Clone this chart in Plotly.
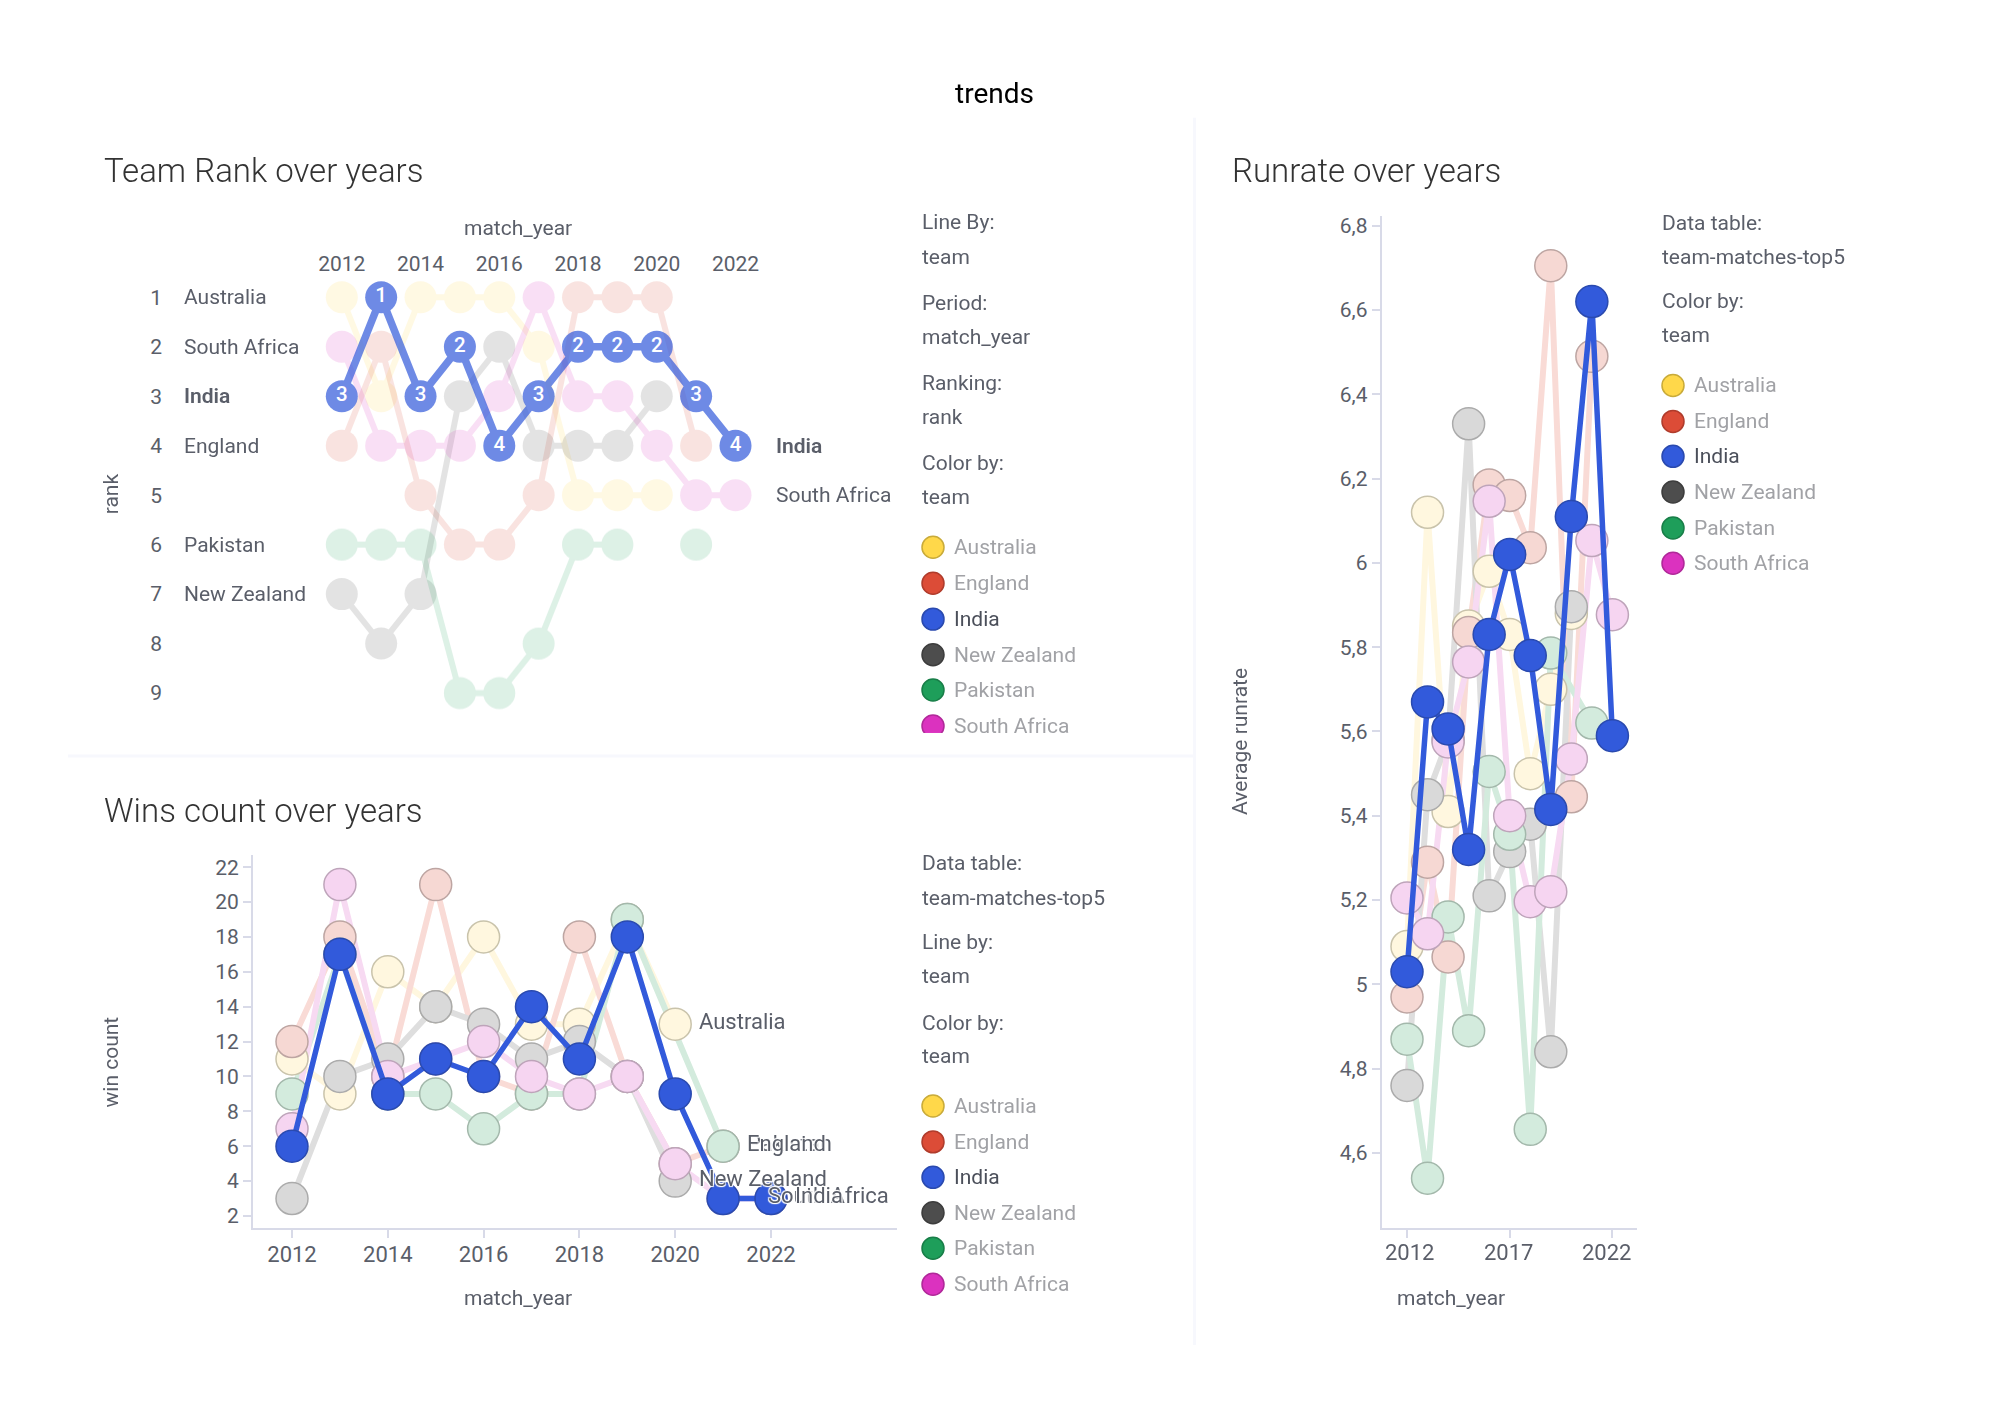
import plotly.graph_objects as go

W, H = 2000, 1413

# ---------- data ----------
years = [2012, 2013, 2014, 2015, 2016, 2017, 2018, 2019, 2020, 2021, 2022]
teams = ["Australia", "England", "New Zealand", "Pakistan", "South Africa", "India"]
legend_teams = ["Australia", "England", "India", "New Zealand", "Pakistan", "South Africa"]

rank_australia = [1, 3, 1, 1, 1, 2, 5, 5, 5, None, None]
rank_england = [4, 2, 5, 6, 6, 5, 1, 1, 1, 4, None]
rank_new_zealand = [7, 8, 7, 3, 2, 4, 4, 4, 3, None, None]
rank_pakistan = [6, 6, 6, 9, 9, 8, 6, 6, None, 6, None]
rank_south_africa = [2, 4, 4, 4, 3, 1, 3, 3, 4, 5, 5]
rank_india = [3, 1, 3, 2, 4, 3, 2, 2, 2, 3, 4]

wins_australia = [11, 9, 16, 14, 18, 13, 13, 19, 13, None, None]
wins_england = [12, 18, 10, 21, 10, 9, 18, 10, 5, 6, None]
wins_new_zealand = [3, 10, 11, 14, 13, 11, 12, 10, 4, None, None]
wins_pakistan = [9, 17, 9, 9, 7, 9, 9, 19, None, 6, None]
wins_south_africa = [7, 21, 10, 11, 12, 10, 9, 10, 5, 3, 3]
wins_india = [6, 17, 9, 11, 10, 14, 11, 18, 9, 3, 3]

rate_australia = [5.09, 6.12, 5.41, 5.85, 5.98, 5.83, 5.5, 5.7, 5.88, None, None]
rate_england = [4.97, 5.29, 5.065, 5.835, 6.185, 6.16, 6.036, 6.705, 5.445, 6.49, None]
rate_new_zealand = [4.76, 5.45, 5.58, 6.33, 5.21, 5.315, 5.38, 4.84, 5.896, None, None]
rate_pakistan = [4.87, 4.54, 5.16, 4.89, 5.505, 5.356, 4.656, 5.786, None, 5.62, None]
rate_south_africa = [5.205, 5.12, 5.575, 5.765, 6.146, 5.40, 5.196, 5.22, 5.535, 6.053, 5.877]
rate_india = [5.03, 5.67, 5.606, 5.32, 5.83, 6.02, 5.78, 5.415, 6.11, 6.62, 5.59]

rank_data = dict(zip(teams, [rank_australia, rank_england, rank_new_zealand, rank_pakistan, rank_south_africa, rank_india]))
wins_data = dict(zip(teams, [wins_australia, wins_england, wins_new_zealand, wins_pakistan, wins_south_africa, wins_india]))
rate_data = dict(zip(teams, [rate_australia, rate_england, rate_new_zealand, rate_pakistan, rate_south_africa, rate_india]))

# ---------- styles ----------
FONT = "Roboto"
BASE = {"Australia": "#FFD84A", "England": "#DC4C37", "India": "#325ADB",
        "New Zealand": "#4D4D4D", "Pakistan": "#1E9E5A", "South Africa": "#DB32BF"}
PALE_FILL = {"Australia": "#FFF7DF", "England": "#F6D8D3", "India": "#325ADB",
             "New Zealand": "#D9D9D9", "Pakistan": "#D3EBDD", "South Africa": "#F6D5F1"}
PALE_EDGE = {"Australia": "#C9C3AB", "England": "#BDA5A2", "India": "#2A4AAF",
             "New Zealand": "#ABABAB", "Pakistan": "#A3B8AB", "South Africa": "#BEA4BA"}
PALE_LINE = {"Australia": "#FFF7DF", "England": "#F9DBD6", "India": "#325ADB",
             "New Zealand": "#DEDEDE", "Pakistan": "#D3EBDD", "South Africa": "#F7DAF2"}
SWATCH_EDGE = {"Australia": "#C9AB3A", "England": "#B03C2C", "India": "#2A4AAF",
               "New Zealand": "#3D3D3D", "Pakistan": "#187E48", "South Africa": "#B02999"}
DARK = "#5A5E69"
FADE = "#A1A2A6"
AXIS = "#D8DAE8"
SEP = "#F7F8FD"
SIZE = 21

def px(x):
    return x / W

def py(y):
    return 1 - y / H

def span(v_a, p_a, v_b, p_b, p_lo, p_hi):
    """axis range so that value v_a falls on pixel p_a and v_b on p_b"""
    k = (v_b - v_a) / (p_b - p_a)
    return [v_a + (p_lo - p_a) * k, v_a + (p_hi - p_a) * k]

fig = go.Figure()

# ---------- traces ----------
for t in teams:
    india = t == "India"
    fig.add_trace(go.Scatter(
        x=years, y=rank_data[t], name=t, xaxis="x", yaxis="y",
        mode="lines+markers+text" if india else "lines+markers",
        text=[str(v) for v in rank_data[t]] if india else None,
        textposition="middle center",
        textfont=dict(family=FONT, size=20.5, color="#FFFFFF", weight=500),
        opacity=0.7 if india else 0.15,
        line=dict(color=BASE[t], width=7.5 if india else 6),
        marker=dict(color=BASE[t], size=32, line=dict(width=0)),
        cliponaxis=False, showlegend=False, hoverinfo="x+y+name"))

for data, xa, ya in [(wins_data, "x2", "y2"), (rate_data, "x3", "y3")]:
    pale = [t for t in teams if t != "India"]
    # pale lines lie under all the pale circles; India goes above everything
    for t in pale:
        fig.add_trace(go.Scatter(
            x=years, y=data[t], name=t, xaxis=xa, yaxis=ya, mode="lines", connectgaps=True,
            line=dict(color=PALE_LINE[t], width=6), showlegend=False, hoverinfo="skip"))
    for t in pale:
        fig.add_trace(go.Scatter(
            x=years, y=data[t], name=t, xaxis=xa, yaxis=ya, mode="markers",
            marker=dict(color=PALE_FILL[t], size=32, line=dict(color=PALE_EDGE[t], width=1.5)),
            cliponaxis=False, showlegend=False, hoverinfo="x+y+name"))
    fig.add_trace(go.Scatter(
        x=years, y=data["India"], name="India", xaxis=xa, yaxis=ya, mode="lines+markers",
        line=dict(color=PALE_LINE["India"], width=5.5),
        marker=dict(color=PALE_FILL["India"], size=32, line=dict(color=PALE_EDGE["India"], width=1.5)),
        cliponaxis=False, showlegend=False, hoverinfo="x+y+name"))

# ---------- axes ----------
tickfont = dict(family=FONT, size=21, color=DARK)
axis_look = dict(showgrid=False, zeroline=False, showline=True, linecolor=AXIS, linewidth=2,
                 ticks="outside", ticklen=8, tickcolor=AXIS, tickwidth=1.5, tickfont=tickfont)
x_look = {**axis_look, "tickfont": dict(family=FONT, size=22, color=DARK)}
fig.update_layout(
    width=W, height=H, autosize=False, margin=dict(l=0, r=0, t=0, b=0),
    paper_bgcolor="white", plot_bgcolor="white", separators=",.", hovermode="closest",
    xaxis=dict(domain=[px(170), px(900)], range=span(2012, 341.8, 2022, 735.5, 170, 900),
               side="top", tickvals=years[::2], showgrid=False, zeroline=False, showline=False,
               ticks="", tickfont=tickfont, anchor="y"),
    yaxis=dict(domain=[py(740), py(275)], range=span(1, 295.7, 9, 692, 740, 275),
               tickvals=list(range(1, 10)), showgrid=False, zeroline=False, showline=False,
               ticks="", tickfont=tickfont, anchor="x", ticklabelstandoff=7),
    xaxis2=dict(domain=[px(253), px(897)], range=span(2012, 292, 2022, 771, 253, 897),
                tickvals=years[::2], anchor="y2", ticklabelstandoff=-3, **x_look),
    yaxis2=dict(domain=[py(1228), py(854)], range=span(2, 1215.7, 22, 866.4, 1228, 854),
                tickvals=list(range(2, 24, 2)), anchor="x2", **axis_look),
    xaxis3=dict(domain=[px(1381.7), px(1636.7)], range=span(2012, 1407, 2022, 1612.4, 1381.7, 1636.7),
                tickvals=[2012, 2017, 2022], showticklabels=False, anchor="y3", **axis_look),
    yaxis3=dict(domain=[py(1228), py(214)], range=span(4.6, 1152.6, 6.8, 224, 1228, 214),
                tickvals=[4.6, 4.8, 5, 5.2, 5.4, 5.6, 5.8, 6, 6.2, 6.4, 6.6, 6.8], anchor="x3", **axis_look),
)

# ---------- text ----------
notes = []

def note(text, x, y, size=SIZE, color=DARK, anchor="left", angle=0, weight=400):
    notes.append(dict(text=text, x=px(x), y=py(y), xref="paper", yref="paper", showarrow=False,
                      xanchor=anchor, yanchor="middle", textangle=angle, borderpad=0, borderwidth=0,
                      font=dict(family=FONT, size=size, color=color, weight=weight)))

note("trends", 994.6, 91.5, size=28, color="#000000", anchor="center")
for txt, x, y in [("Team Rank over years", 104, 168.5), ("Wins count over years", 104, 810),
                  ("Runrate over years", 1232, 168.5)]:
    note(txt, x, y, size=33, color="#333333", weight=300)

note("match_year", 518, 226, anchor="center")
note("match_year", 518, 1298, anchor="center")
note("match_year", 1451, 1298, anchor="center")
note("rank", 111, 493, anchor="center", angle=-90)
note("win count", 111, 1062, anchor="center", angle=-90)
note("Average runrate", 1240, 741, anchor="center", angle=-90)

panels = [
    (922, [("Line By:", 220.5), ("team", 255.5), ("Period:", 301), ("match_year", 335.5),
           ("Ranking:", 381.5), ("rank", 415.5), ("Color by:", 462), ("team", 496)],
     [546, 582, 618, 653.6, 689, 725]),
    (922, [("Data table:", 862.7), ("team-matches-top5", 897), ("Line by:", 941), ("team", 975),
           ("Color by:", 1022), ("team", 1055)],
     [1105.5, 1141.5, 1177, 1212.5, 1248, 1284]),
    (1662, [("Data table:", 221.5), ("team-matches-top5", 255.5), ("Color by:", 299.5), ("team", 333.5)],
     [384, 420, 455, 490.7, 526.7, 562]),
]

shapes = []
for left, rows, swatch_y in panels:
    for txt, y in rows:
        note(txt, left, y)
    for t, y in zip(legend_teams, swatch_y):
        shapes.append(dict(type="circle", xref="paper", yref="paper",
                           x0=px(left), x1=px(left + 22), y0=py(y + 11), y1=py(y - 11),
                           fillcolor=BASE[t], line=dict(color=SWATCH_EDGE[t], width=1.5)))
        note(t, left + 32, y, color="#4B4F5A" if t == "India" else FADE)

# the rank panel cuts its last swatch off
shapes.append(dict(type="rect", xref="paper", yref="paper", x0=px(918), x1=px(948), y0=py(732), y1=py(742),
                   fillcolor="white", line=dict(width=0)))

# separators
shapes.append(dict(type="line", xref="paper", yref="paper", x0=px(1194.5), x1=px(1194.5), y0=py(116), y1=py(1345),
                   line=dict(color=SEP, width=3)))
shapes.append(dict(type="line", xref="paper", yref="paper", x0=px(68), x1=px(1193), y0=py(755), y1=py(755),
                   line=dict(color=SEP, width=3)))

# run-rate panel: year labels sit a little off their ticks
for yr, shift in zip([2012, 2017, 2022], [2.5, -1.3, -6]):
    notes.append(dict(text=str(yr), x=yr, y=0, xref="x3", yref="paper", yanchor="middle", showarrow=False,
                      yshift=(1 - 1252 / H) * H, xshift=shift, borderpad=0, borderwidth=0,
                      font=dict(family=FONT, size=22, color=DARK)))

# rank panel: team names on both sides
for t in teams:
    first = rank_data[t][0]
    notes.append(dict(text=t, x=px(183.7), y=first, xref="paper", yref="y", showarrow=False, xanchor="left",
                      yanchor="middle", borderpad=0, borderwidth=0,
                      font=dict(family=FONT, size=SIZE, color=DARK, weight=600 if t == "India" else 400)))
    last = rank_data[t][-1]
    if last is not None:
        notes.append(dict(text=t, x=px(776), y=last, xref="paper", yref="y", showarrow=False, xanchor="left",
                          yanchor="middle", borderpad=0, borderwidth=0,
                          font=dict(family=FONT, size=SIZE, color=DARK, weight=600 if t == "India" else 400)))

# wins panel: labels next to each line's last point (England is written over Pakistan, India over South Africa)
shadow = "1px 1px 1px #fff, -1px -1px 1px #fff, 1px -1px 1px #fff, -1px 1px 1px #fff"
for t in ["Australia", "Pakistan", "England", "New Zealand", "South Africa", "India"]:
    vals = [(yr, v) for yr, v in zip(years, wins_data[t]) if v is not None]
    yr, v = vals[-1]
    notes.append(dict(text=t, x=yr, y=v, xref="x2", yref="y2", showarrow=False, xanchor="left", yanchor="middle",
                      xshift=-3 if t == "South Africa" else 24, yshift=3, borderpad=0, borderwidth=0,
                      font=dict(family=FONT, size=22, color=DARK, shadow=shadow)))

fig.update_layout(annotations=notes, shapes=shapes)

fig.write_html("out.html", post_script="document.body.style.margin='0';", config={"displayModeBar": False})
